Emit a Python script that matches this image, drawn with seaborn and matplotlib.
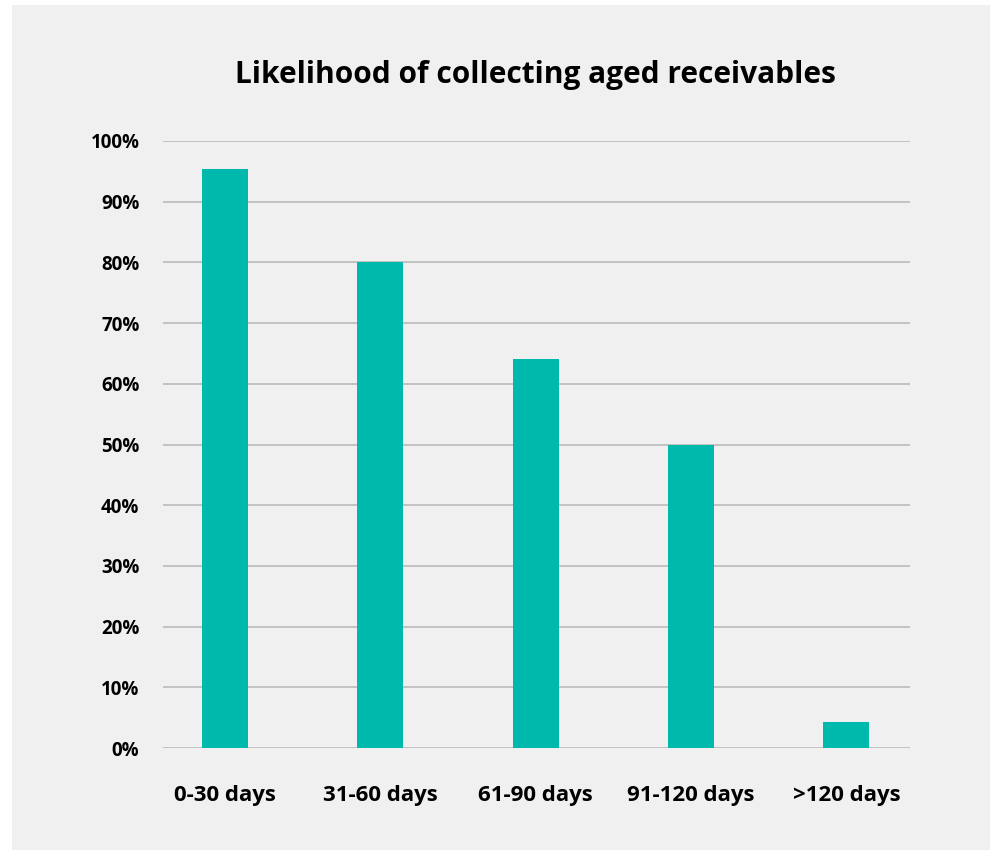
import matplotlib
matplotlib.use("Agg")
import matplotlib.pyplot as plt
import seaborn as sns
import pandas as pd
from matplotlib.patches import Rectangle

categories = ["0-30 days", "31-60 days", "61-90 days", "91-120 days", ">120 days"]
values = [95.4, 80.0, 64.1, 50.0, 4.3]
yticks = [0, 10, 20, 30, 40, 50, 60, 70, 80, 90, 100]
ytick_labels = [f"{v}%" for v in yticks]
title = "Likelihood of collecting aged receivables"

sns.set_theme(style="white")
plt.rcParams['font.family'] = ['Open Sans', 'DejaVu Sans']

fig = plt.figure(figsize=(9.9, 8.5), dpi=100, facecolor="white")
fig.patches.append(Rectangle((12/990, 0), 1 - 12/990, 1 - 5/850, transform=fig.transFigure,
                             facecolor="#f0f0f0", edgecolor="none", zorder=-10))
ax = fig.add_axes([163/990, 1 - 748/850, (910-163)/990, (748-141)/850])
ax.set_facecolor("none")

df = pd.DataFrame({"cat": categories, "val": values})
sns.barplot(data=df, x="cat", y="val", color="#00b9ad", saturation=1, width=0.296,
            linewidth=0, edgecolor="none", ax=ax, zorder=3)

ax.set_ylim(0, 100)
ax.set_xlim(-0.4, 4.41)
ax.set_yticks(yticks)
ax.set_yticklabels(ytick_labels)
ax.yaxis.grid(True, color="#bfbfbf", linewidth=1.3, zorder=1)
ax.set_axisbelow(True)
for s in ax.spines.values():
    s.set_visible(False)
ax.set_xlabel("")
ax.set_ylabel("")
ax.tick_params(axis="y", length=0, pad=17, labelsize=13.5, colors="black")
ax.tick_params(axis="x", length=0, pad=27, labelsize=16, colors="black")
for lab in ax.get_xticklabels() + ax.get_yticklabels():
    lab.set_fontweight("bold")

fig.text(535/990, 1 - 75/850, title, ha="center", va="center", fontsize=21.5, fontweight="bold", color="black")

fig.savefig("out.png", dpi=100, facecolor=fig.get_facecolor())
